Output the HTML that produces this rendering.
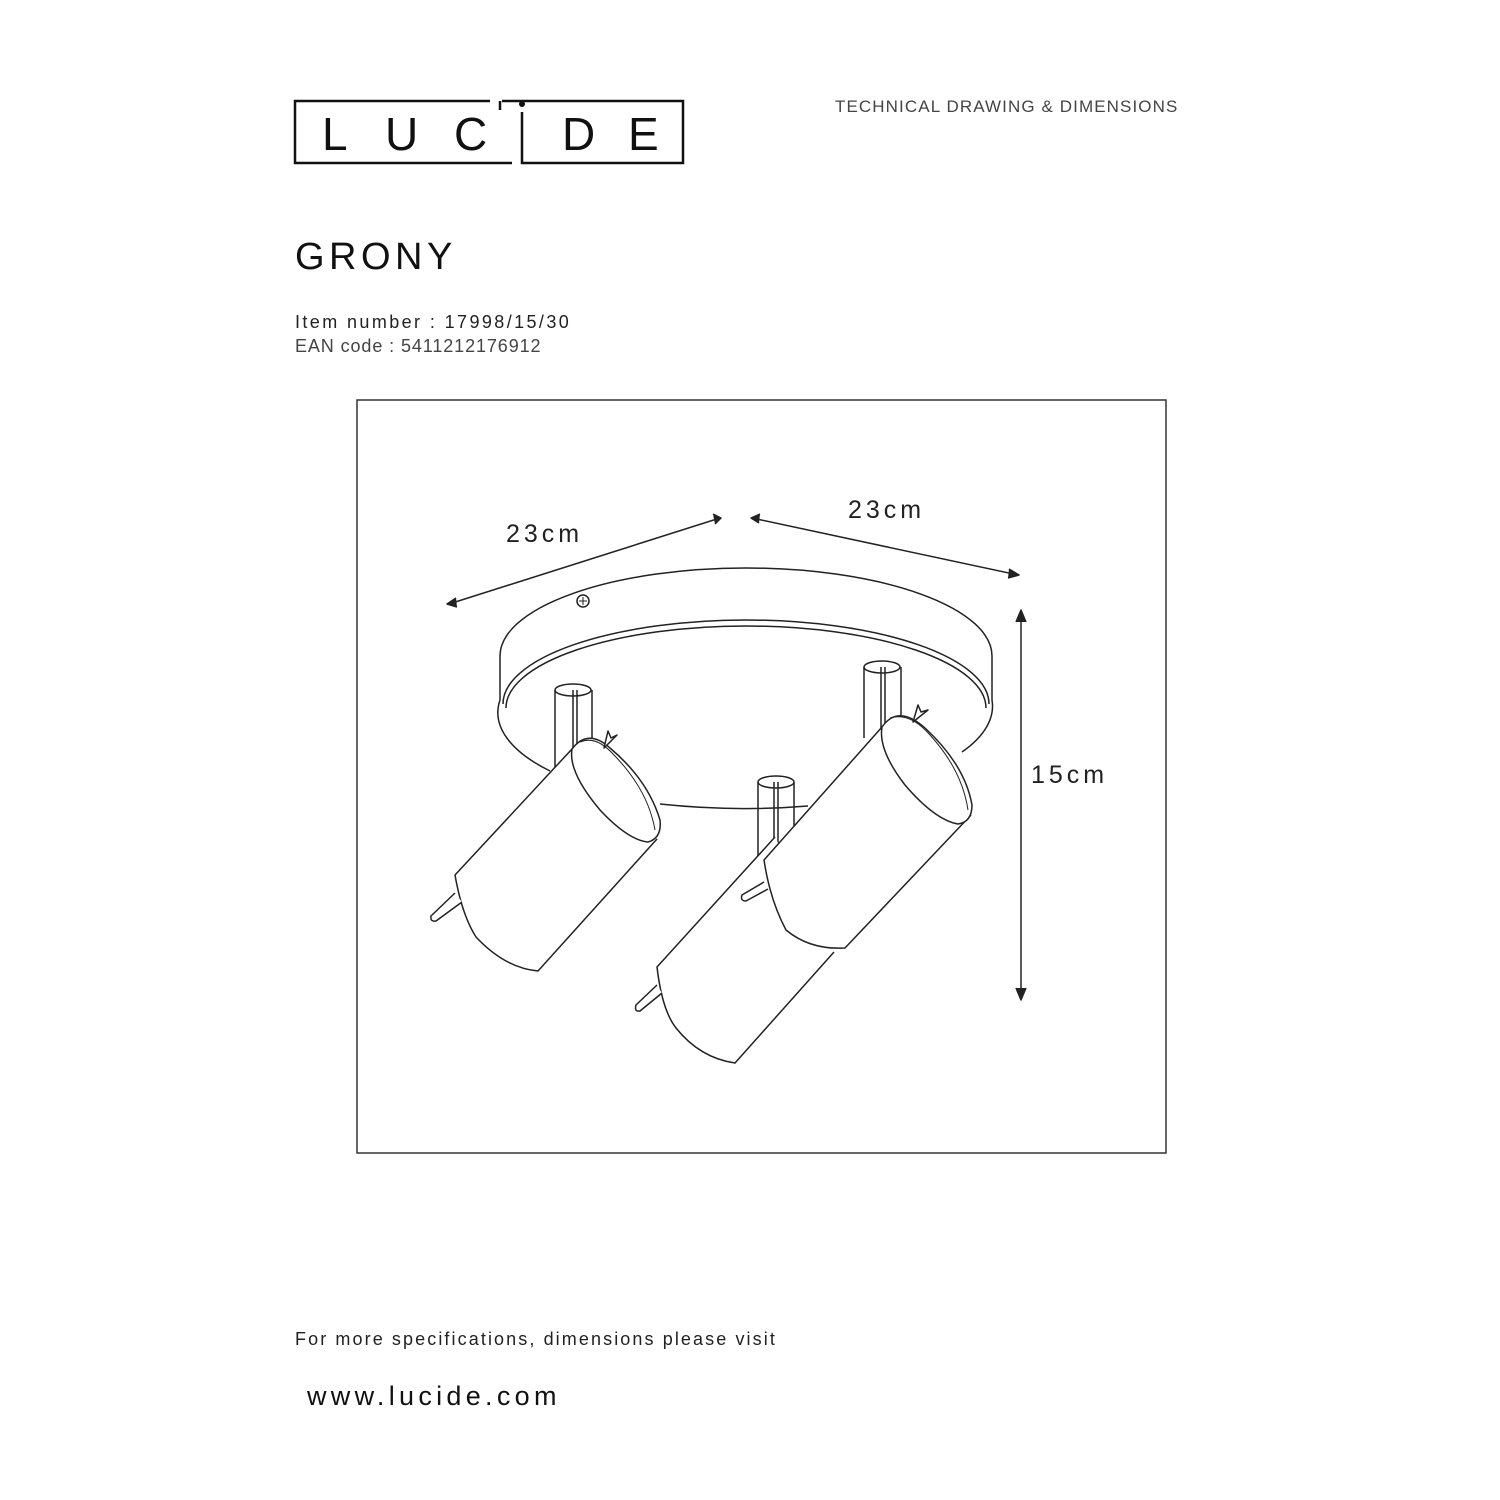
<!DOCTYPE html>
<html><head><meta charset="utf-8"><style>
html,body{margin:0;padding:0;background:#fff;}
body{width:1500px;height:1500px;position:relative;overflow:hidden;font-family:"Liberation Sans",sans-serif;color:#222;}
.t{position:absolute;white-space:nowrap;}
</style></head><body>
<svg width="1500" height="1500" style="position:absolute;left:0;top:0" xmlns="http://www.w3.org/2000/svg">
<g fill="none" stroke="#111" stroke-width="2.5">
<path d="M490 101 H295 V163 H512"/>
<path d="M500 101 V110"/>
<path d="M502 101 H683 V163 H522 V112"/>
</g>
<g font-family="Liberation Sans, sans-serif" font-size="46" fill="#111">
<text x="322" y="150">L</text>
<text x="385" y="150">U</text>
<text x="454" y="150">C</text>
<text x="562" y="150">D</text>
<text x="628" y="150">E</text>
</g>
<circle cx="522" cy="104" r="3" fill="#111"/>
<rect x="357" y="400" width="809" height="753" fill="none" stroke="#333" stroke-width="1.5"/>
<g fill="none" stroke="#222" stroke-width="1.5" stroke-linejoin="round">
<line x1="720" y1="518" x2="449" y2="604"/>
<path d="M456 598 L447 604 L457 607" fill="#222"/>
<path d="M713 514 L721 518 L715 524" fill="#222"/>
<line x1="752" y1="518" x2="1018" y2="575"/>
<path d="M760 514 L751 518 L759 523" fill="#222"/>
<path d="M1009 569 L1019 575 L1008 578" fill="#222"/>
<line x1="1021" y1="612" x2="1021" y2="998"/>
<path d="M1016 622 L1021 610 L1026 622" fill="#222"/>
<path d="M1016 988 L1021 1000 L1026 988" fill="#222"/>
<path d="M500 656 A246 88 0 0 1 992 656"/>
<path d="M500 656 V700 A246 95 0 0 0 550 771"/>
<path d="M992 656 V700 A246 95 0 0 1 962 752"/>
<path d="M503 704 A243 84 0 0 1 989 704"/>
<path d="M506 708 A240 82 0 0 1 986 708"/>
<path d="M660 804 Q735 812 808 806"/>
<circle cx="583" cy="601" r="6"/>
<path d="M579 601 H587 M583 597 V605" stroke-width="1"/>
<path d="M555 767 V690 M592 760 V690 M573 690 V767 M577 690 V767"/>
<ellipse cx="573" cy="690" rx="18" ry="6"/>
<path d="M864 738 V667 M901 720 V667 M881 667 V738 M885 667 V738"/>
<ellipse cx="882" cy="667" rx="18" ry="6"/>
<path d="M758 856 V782 M794 830 V782 M774 782 V850 M778 782 V850"/>
<ellipse cx="776" cy="782" rx="18" ry="6"/>
<path d="M572 749 L455 875 Q462 915 476 937 Q505 968 538 971 L657 839" fill="#fff"/>
<path d="M572 749 Q588 728 610 748 Q648 780 660 820 Q662 838 648 842 Q628 840 600 810 Q568 772 572 749Z" fill="#fff"/>
<path d="M580 742 Q596 735 614 755 Q648 790 655 830" stroke-width="1"/>
<path d="M604 748 L608 731 L611 738 L617 735 Z" fill="#fff"/>
<path d="M455 893 L431 916 Q430 922 436 921 L462 902" fill="#fff"/>
<path d="M775 837 L657 967 Q662 1010 676 1028 Q700 1058 735 1063 L834 952" fill="#fff"/>
<path d="M764 882 L742 895 Q740 901 746 901 L768 889" fill="#fff"/>
<path d="M657 985 L636 1005 Q634 1012 640 1011 L662 993" fill="#fff"/>
<path d="M882 727 L764 860 Q770 900 786 930 Q810 950 845 948 L971 815" fill="#fff"/>
<path d="M882 727 Q898 704 925 728 Q965 765 972 805 Q972 822 958 824 Q935 820 905 785 Q878 750 882 727Z" fill="#fff"/>
<path d="M890 718 Q910 712 930 735 Q962 770 968 810" stroke-width="1"/>
<path d="M913 722 L918 705 L921 712 L928 710 Z" fill="#fff"/>
</g>
</svg>
<div class="t" style="left:835px;top:97px;font-size:17px;letter-spacing:1.1px;color:#444;">TECHNICAL DRAWING &amp; DIMENSIONS</div>
<div class="t" style="left:295px;top:236px;font-size:38px;letter-spacing:4.5px;color:#111;">GRONY</div>
<div class="t" style="left:295px;top:312px;font-size:18px;letter-spacing:2.4px;color:#222;">Item number : 17998/15/30</div>
<div class="t" style="left:295px;top:336px;font-size:18px;letter-spacing:0.9px;color:#444;">EAN code : 5411212176912</div>
<div class="t" style="left:506px;top:520px;font-size:25px;letter-spacing:4px;color:#222;">23cm</div>
<div class="t" style="left:848px;top:496px;font-size:25px;letter-spacing:4px;color:#222;">23cm</div>
<div class="t" style="left:1031px;top:761px;font-size:25px;letter-spacing:4px;color:#222;">15cm</div>
<div class="t" style="left:295px;top:1329px;font-size:18px;letter-spacing:2.1px;color:#222;">For more specifications, dimensions please visit</div>
<div class="t" style="left:307px;top:1381px;font-size:27px;letter-spacing:4.3px;color:#111;">www.lucide.com</div>
</body></html>
